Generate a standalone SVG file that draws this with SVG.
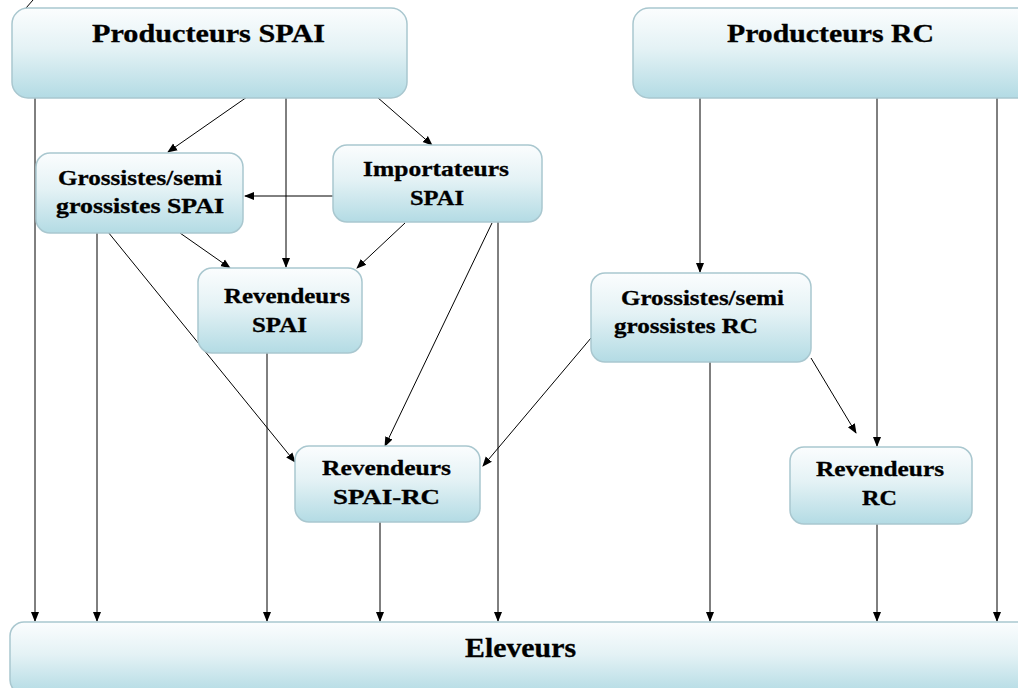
<svg xmlns="http://www.w3.org/2000/svg" width="1018" height="688" viewBox="0 0 1018 688">
<defs>
<linearGradient id="g" x1="0" y1="0" x2="0" y2="1">
<stop offset="0" stop-color="#fbfdfe"/>
<stop offset="0.45" stop-color="#e4f2f5"/>
<stop offset="1" stop-color="#b3dbe4"/>
</linearGradient>
<marker id="ah" markerWidth="10" markerHeight="10" refX="9" refY="5" orient="auto" markerUnits="userSpaceOnUse">
<path d="M0,1 L10,5 L0,9 z" fill="#000"/>
</marker>
</defs>
<style>
.box{fill:url(#g);stroke:#a9c7cf;stroke-width:1.5}
.t{font-family:"Liberation Serif",serif;font-weight:bold;fill:#000;stroke:#000;stroke-width:0.3}
.big{font-size:25px}
.mid{font-size:21px}
.c line{stroke:#000;stroke-width:1;marker-end:url(#ah)}
</style>
<rect width="1018" height="688" fill="#fff"/>
<line x1="26" y1="8" x2="33" y2="0" stroke="#000" stroke-width="1"/>
<g class="c" id="connectors">
<line x1="35" y1="98" x2="35" y2="621"/>
<line x1="97" y1="233" x2="97" y2="621"/>
<line x1="267" y1="353" x2="267" y2="621"/>
<line x1="380" y1="522" x2="380" y2="621"/>
<line x1="498" y1="222" x2="498" y2="621"/>
<line x1="710" y1="362" x2="710" y2="621"/>
<line x1="877" y1="524" x2="877" y2="621"/>
<line x1="997" y1="98" x2="997" y2="621"/>
<line x1="286" y1="98" x2="286" y2="267"/>
<line x1="247" y1="97" x2="168" y2="152"/>
<line x1="377" y1="97" x2="432" y2="145"/>
<line x1="333" y1="196" x2="245" y2="196"/>
<line x1="180" y1="233" x2="230" y2="268"/>
<line x1="405" y1="223" x2="357" y2="268"/>
<line x1="108" y1="232" x2="295" y2="462"/>
<line x1="492" y1="223" x2="385" y2="446"/>
<line x1="591" y1="338" x2="483" y2="466"/>
<line x1="700" y1="98" x2="700" y2="272"/>
<line x1="877" y1="98" x2="877" y2="446"/>
<line x1="811" y1="358" x2="856" y2="433"/>
</g>
<g id="prod-spai"><rect class="box" x="12" y="8" width="395" height="90" rx="16"/><text class="t big" x="92" y="42" textLength="233" lengthAdjust="spacingAndGlyphs">Producteurs SPAI</text></g>
<g id="prod-rc"><rect class="box" x="633" y="8" width="400" height="90" rx="16"/><text class="t big" x="727" y="42" textLength="207" lengthAdjust="spacingAndGlyphs">Producteurs RC</text></g>
<g id="gros-spai"><rect class="box" x="36" y="153" width="207" height="80" rx="14"/><text class="t mid" x="58" y="185" textLength="164" lengthAdjust="spacingAndGlyphs">Grossistes/semi</text><text class="t mid" x="56" y="213" textLength="168" lengthAdjust="spacingAndGlyphs">grossistes SPAI</text></g>
<g id="import-spai"><rect class="box" x="333" y="145" width="209" height="77" rx="14"/><text class="t mid" x="363" y="176" textLength="146" lengthAdjust="spacingAndGlyphs">Importateurs</text><text class="t mid" x="410" y="205" textLength="54" lengthAdjust="spacingAndGlyphs">SPAI</text></g>
<g id="rev-spai"><rect class="box" x="198" y="268" width="164" height="85" rx="14"/><text class="t mid" x="224" y="303" textLength="126" lengthAdjust="spacingAndGlyphs">Revendeurs</text><text class="t mid" x="252" y="332" textLength="55" lengthAdjust="spacingAndGlyphs">SPAI</text></g>
<g id="gros-rc"><rect class="box" x="591" y="273" width="220" height="89" rx="14"/><text class="t mid" x="621" y="305" textLength="163" lengthAdjust="spacingAndGlyphs">Grossistes/semi</text><text class="t mid" x="614" y="333" textLength="144" lengthAdjust="spacingAndGlyphs">grossistes RC</text></g>
<g id="rev-spai-rc"><rect class="box" x="295" y="446" width="185" height="76" rx="14"/><text class="t mid" x="322" y="475" textLength="129" lengthAdjust="spacingAndGlyphs">Revendeurs</text><text class="t mid" x="333" y="504" textLength="107" lengthAdjust="spacingAndGlyphs">SPAI-RC</text></g>
<g id="rev-rc"><rect class="box" x="790" y="447" width="182" height="77" rx="14"/><text class="t mid" x="816" y="476" textLength="128" lengthAdjust="spacingAndGlyphs">Revendeurs</text><text class="t mid" x="862" y="505" textLength="35" lengthAdjust="spacingAndGlyphs">RC</text></g>
<g id="eleveurs"><rect class="box" x="10" y="622" width="1030" height="72" rx="14"/><text class="t" style="font-size:27px" x="465" y="657" textLength="111" lengthAdjust="spacingAndGlyphs">Eleveurs</text></g>
</svg>
